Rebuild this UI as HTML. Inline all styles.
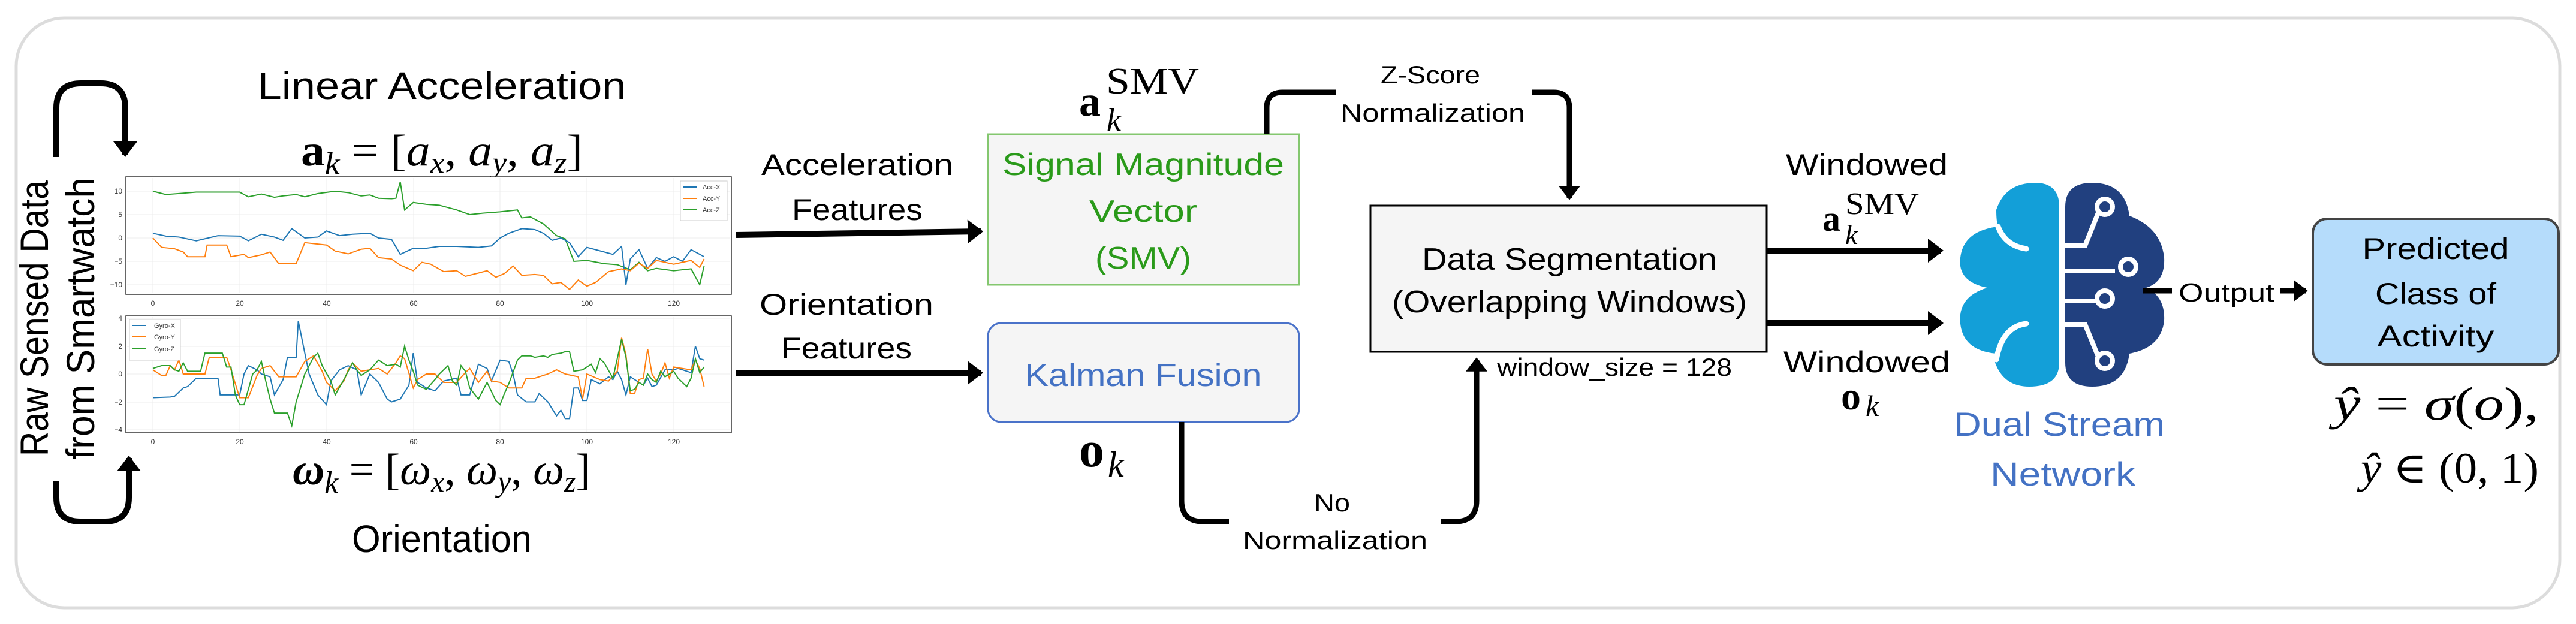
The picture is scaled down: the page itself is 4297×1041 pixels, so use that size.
<!DOCTYPE html>
<html><head><meta charset="utf-8"><style>
html,body{margin:0;padding:0;background:#fff;}
svg{display:block;}
.c{font-family:"Liberation Sans Narrow","Liberation Sans",sans-serif;}
.m{font-family:"Liberation Serif","DejaVu Serif",serif;}
</style></head><body>
<svg width="4297" height="1041" viewBox="0 0 4297 1041" xmlns="http://www.w3.org/2000/svg">
<defs>
<marker id="ah" markerWidth="4" markerHeight="4" refX="2.2" refY="2" orient="auto" markerUnits="strokeWidth">
<path d="M0,0 L2.6,2 L0,4 Z" fill="#000"/></marker>
</defs>
<rect x="27" y="30" width="4243" height="984" rx="80" fill="#fff" stroke="#dcdcdc" stroke-width="5"/>

<!-- left rotated text -->
<text class="c" transform="translate(80,531) rotate(-90)" font-size="66" text-anchor="middle" textLength="460" lengthAdjust="spacingAndGlyphs" fill="#000">Raw Sensed Data</text>
<text class="c" transform="translate(157,531) rotate(-90)" font-size="66" text-anchor="middle" textLength="470" lengthAdjust="spacingAndGlyphs" fill="#000">from Smartwatch</text>
<!-- curved arrows -->
<path d="M94,262 V180 Q94,139 135,139 H168 Q209,139 209,180 V258" fill="none" stroke="#000" stroke-width="10" marker-end="url(#ah)"/>
<path d="M94,803 V830 Q94,870 134,870 H175 Q215,870 215,830 V764" fill="none" stroke="#000" stroke-width="10" marker-end="url(#ah)"/>

<text class="c" x="737" y="165" font-size="64" text-anchor="middle" textLength="615" lengthAdjust="spacingAndGlyphs">Linear Acceleration</text>
<text class="m" x="502" y="276" font-size="74" textLength="470" lengthAdjust="spacingAndGlyphs"><tspan font-weight="bold">a</tspan><tspan font-style="italic" font-size="52" dy="14">k</tspan><tspan dy="-14"> = [</tspan><tspan font-style="italic">a</tspan><tspan font-style="italic" font-size="50" dy="12">x</tspan><tspan dy="-12">, </tspan><tspan font-style="italic">a</tspan><tspan font-style="italic" font-size="50" dy="12">y</tspan><tspan dy="-12">, </tspan><tspan font-style="italic">a</tspan><tspan font-style="italic" font-size="50" dy="12">z</tspan><tspan dy="-12">]</tspan></text>

<!-- plot 1 -->
<rect x="210" y="295" width="1010" height="196" fill="#fff" stroke="#333" stroke-width="1.5"/>
<g stroke="#ececec" stroke-width="1">
<line x1="255" y1="297" x2="255" y2="489"/><line x1="400" y1="297" x2="400" y2="489"/><line x1="545" y1="297" x2="545" y2="489"/><line x1="690" y1="297" x2="690" y2="489"/><line x1="834" y1="297" x2="834" y2="489"/><line x1="979" y1="297" x2="979" y2="489"/><line x1="1124" y1="297" x2="1124" y2="489"/>
<line x1="212" y1="319" x2="1218" y2="319"/><line x1="212" y1="358" x2="1218" y2="358"/><line x1="212" y1="397" x2="1218" y2="397"/><line x1="212" y1="436" x2="1218" y2="436"/><line x1="212" y1="475" x2="1218" y2="475"/>
</g>
<g font-family="Liberation Sans,sans-serif" font-size="12" fill="#333" text-anchor="end">
<text x="204" y="323">10</text><text x="204" y="362">5</text><text x="204" y="401">0</text><text x="204" y="440">−5</text><text x="204" y="479">−10</text></g>
<g font-family="Liberation Sans,sans-serif" font-size="12" fill="#333" text-anchor="middle">
<text x="255" y="510">0</text><text x="400" y="510">20</text><text x="545" y="510">40</text><text x="690" y="510">60</text><text x="834" y="510">80</text><text x="979" y="510">100</text><text x="1124" y="510">120</text></g>
<g transform="translate(255,397) scale(7.24,-7.8)" fill="none">
<polyline vector-effect="non-scaling-stroke" stroke-width="2" stroke="#2ca02c" points="0,10 3,9.3 6,9.5 10,9.8 20,9.8 22,8.8 25,9.4 28,8.7 30,9 33,9.3 35,8.8 38,9.5 42,10 45,9.7 48,9 50,9.2 52,8.5 55,8.4 56,8.5 57,12 58,6 60,7.6 63,7.2 66,7 70,6 73,5 76,5.3 80,5.6 84,6 85,4.3 87,4.5 90,3 93,0.5 95,-0.2 97,-5 100,-4.8 104,-5.5 107,-5.7 110,-6.8 112,-5.2 114,-7 116,-6.5 120,-7 124,-6.6 126,-10 127,-6"/>
<polyline vector-effect="non-scaling-stroke" stroke-width="2" stroke="#1f77b4" points="0,1 3,0.4 6,0.2 10,-0.6 15,0.5 20,0.4 22,-0.6 25,0.8 28,0.2 30,-0.5 32,2 35,0 38,0.2 40,1.5 43,0.5 46,0.8 50,1 52,0 55,-0.3 57,-3.5 60,-2.2 63,-2.2 66,-1.8 70,-1.8 75,-2 78,-1.7 80,0 82,1 85,2 88,1.8 90,1 92,-0.5 94,0 96,-1 98,-4 100,-2 104,-3 106,-3.5 108,-1.8 109,-10 110,-4.5 112,-2.5 114,-6.5 116,-4.2 118,-5 120,-4 122,-5 124,-2.5 126,-3.5 127,-4"/>
<polyline vector-effect="non-scaling-stroke" stroke-width="2" stroke="#ff7f0e" points="0,0 2,-2 5,-2.3 7,-3 8,-4 12,-4 12.5,-1.5 17,-1.5 18,-4 21,-3.5 22,-4.2 25,-3.6 27,-3 29,-5.5 33,-5.5 35,-1 40,-1.5 42,-2.8 45,-3.4 48,-2.4 50,-2.2 52,-4.2 55,-4.5 57,-5.8 60,-7 62,-5.2 64,-5.6 67,-7.2 70,-7 72,-8.2 75,-7.5 77,-7 79,-8.4 81,-7.6 83,-6 85,-8 88,-7.8 90,-8 92,-9.8 94,-9.5 96,-11 98,-9 100,-10.3 102,-9.5 105,-7.2 108,-6.6 110,-7 112,-5.4 114,-6.5 116,-4.8 120,-5.6 124,-4.8 126,-6.3 127,-4.5"/>
</g>
<rect x="1135" y="302" width="78" height="66" fill="#fff" stroke="#ccc" stroke-width="1"/>
<g font-family="Liberation Sans,sans-serif" font-size="11" fill="#333">
<line x1="1140" y1="312" x2="1162" y2="312" stroke="#1f77b4" stroke-width="2"/><text x="1172" y="316">Acc-X</text>
<line x1="1140" y1="331" x2="1162" y2="331" stroke="#ff7f0e" stroke-width="2"/><text x="1172" y="335">Acc-Y</text>
<line x1="1140" y1="350" x2="1162" y2="350" stroke="#2ca02c" stroke-width="2"/><text x="1172" y="354">Acc-Z</text>
</g>

<!-- plot 2 -->
<rect x="210" y="527" width="1010" height="195" fill="#fff" stroke="#333" stroke-width="1.5"/>
<g stroke="#ececec" stroke-width="1">
<line x1="255" y1="529" x2="255" y2="720"/><line x1="400" y1="529" x2="400" y2="720"/><line x1="545" y1="529" x2="545" y2="720"/><line x1="690" y1="529" x2="690" y2="720"/><line x1="834" y1="529" x2="834" y2="720"/><line x1="979" y1="529" x2="979" y2="720"/><line x1="1124" y1="529" x2="1124" y2="720"/>
<line x1="212" y1="531" x2="1218" y2="531"/><line x1="212" y1="578" x2="1218" y2="578"/><line x1="212" y1="624" x2="1218" y2="624"/><line x1="212" y1="671" x2="1218" y2="671"/><line x1="212" y1="717" x2="1218" y2="717"/>
</g>
<g font-family="Liberation Sans,sans-serif" font-size="12" fill="#333" text-anchor="end">
<text x="204" y="535">4</text><text x="204" y="582">2</text><text x="204" y="628">0</text><text x="204" y="675">−2</text><text x="204" y="721">−4</text></g>
<g font-family="Liberation Sans,sans-serif" font-size="12" fill="#333" text-anchor="middle">
<text x="255" y="741">0</text><text x="400" y="741">20</text><text x="545" y="741">40</text><text x="690" y="741">60</text><text x="834" y="741">80</text><text x="979" y="741">100</text><text x="1124" y="741">120</text></g>
<g transform="translate(255,624) scale(7.24,-23.25)" fill="none">
<polyline vector-effect="non-scaling-stroke" stroke-width="2" stroke="#1f77b4" points="0,-1.7 4,-1.65 5,-1.6 7,-1 8,-0.9 10,-0.3 15,-0.3 15.5,-1.5 20,-1.5 21,0 22,0.6 24,0.3 25,0 27,-0.2 28,-1.5 30,-0.4 31,1.2 33,1.2 33.5,3.8 35,1.5 36,0 38,-1.5 40,-2.2 41,-0.5 43,0.3 45,0.6 47,0.3 48,-1.5 50,0 52,-0.6 54,-1.8 55,-2 57,-1.8 59,-0.8 60,1.5 61,-0.6 63,-1 65,-1.2 67,-0.5 70,-0.3 71,-1.5 73,-1.5 75,0.7 77,0.4 78,-0.5 80,1 82,0.9 83,0 84,-1.5 86,-2 88,-2 89,-1.4 91,-2 93,-3 94,-2.6 95,-3.2 96,-3.2 97,-1 98,-1 99,-1.9 100,-1.9 101,-0.4 103,-0.7 105,-0.2 106,-0.4 107,0.2 108,-0.4 109,-1.5 110,-0.2 112,-0.6 113,-0.8 114,-0.3 115,-0.9 116,-0.8 118,0.3 120,0.3 121,0.4 123,0.2 124,0.1 125,2 126,1.1 127,1"/>
<polyline vector-effect="non-scaling-stroke" stroke-width="2" stroke="#ff7f0e" points="0,0.3 2,-0.1 3,-0.1 4,0.6 5,0.3 6,1 7,0 12,0 13,1.2 17,1.2 18,0.3 20,-1.7 22,-1.7 24,-0.1 25,0.4 27,0.6 29,-0.2 33,-0.2 35,0.9 37,1.3 39,0.2 40,-0.6 42,-1.2 44,-0.5 45,0.3 46,0.8 48,0.2 50,0.3 52,0.4 54,0 56,0.8 57,1.3 58,1.1 60,-1 61,-0.4 63,0 65,0 67,-0.6 70,-0.6 72,0.1 73,0.4 75,-0.6 77,0.2 78,-0.5 80,-0.6 82,-1 85,-1 86,-0.3 88,-0.3 91,0 93,0.3 95,0 98,-0.2 99,-1.8 100,0 103,-0.4 105,-0.5 107,0.2 108,2.6 109,1.4 110,-1.4 111,-1.4 112,-0.4 113,-0.3 114,1.8 115,0 116,-0.5 117,0 118,0.8 119,-0.3 120,0.5 124,0.3 125,1 126,0.4 127,-0.9"/>
<polyline vector-effect="non-scaling-stroke" stroke-width="2" stroke="#2ca02c" points="0,0.4 2,0.6 4,0.6 5,0.3 6,0.2 7,0.8 8,0.2 11,0.2 12,1.5 16,1.5 17,0.5 18,0.5 19,-1.5 20,-2.2 21,-2.2 23,0 24,0.3 25,0.9 26,-0.5 27,-1.8 28,-2.8 31,-2.8 32,-3.7 33,-2 35,0 37,1.2 38,1.5 39,0.6 41,-0.5 42,-1.5 44,-0.4 45,0.2 46,0.8 47,0.3 48,-0.1 50,0.3 52,1 54,0.6 56,0.7 57,0.5 58,2 59,1 60,0.2 61,-0.8 63,-1.1 65,-0.4 66,0 68,0.6 69,-0.5 70,-0.8 71,0.6 72,0.2 73,-1 75,-1.8 76,-1.2 77,-0.6 79,-1.9 80,-2.2 81,-1.4 82,-0.7 84,1 85,1.3 87,1.3 88,1.2 90,1.3 91,1.2 92,1.4 94,1.5 95,1.6 96,1.6 97,0.2 99,0.3 100,0.5 101,0.7 102,0.1 103,1.1 104,0.8 106,-0.3 108,2.5 109,1.2 110,-1.2 111,-1.1 112,-0.6 113,-0.8 114,0 115,-0.4 116,-0.6 117,0.2 118,-0.2 120,0.2 121,-0.3 123,-0.9 124,-0.3 125,1.1 126,0.1 127,0.5"/>
</g>
<rect x="216" y="533" width="85" height="68" fill="#fff" stroke="#ccc" stroke-width="1"/>
<g font-family="Liberation Sans,sans-serif" font-size="11" fill="#333">
<line x1="221" y1="543" x2="243" y2="543" stroke="#1f77b4" stroke-width="2"/><text x="257" y="547">Gyro-X</text>
<line x1="221" y1="562" x2="243" y2="562" stroke="#ff7f0e" stroke-width="2"/><text x="257" y="566">Gyro-Y</text>
<line x1="221" y1="582" x2="243" y2="582" stroke="#2ca02c" stroke-width="2"/><text x="257" y="586">Gyro-Z</text>
</g>

<text class="m" x="488" y="808" font-size="74" textLength="497" lengthAdjust="spacingAndGlyphs"><tspan font-weight="bold" font-style="italic">ω</tspan><tspan font-style="italic" font-size="52" dy="14">k</tspan><tspan dy="-14"> = [</tspan><tspan font-style="italic">ω</tspan><tspan font-style="italic" font-size="50" dy="12">x</tspan><tspan dy="-12">, </tspan><tspan font-style="italic">ω</tspan><tspan font-style="italic" font-size="50" dy="12">y</tspan><tspan dy="-12">, </tspan><tspan font-style="italic">ω</tspan><tspan font-style="italic" font-size="50" dy="12">z</tspan><tspan dy="-12">]</tspan></text>
<text class="c" x="737" y="921" font-size="64" text-anchor="middle" textLength="300" lengthAdjust="spacingAndGlyphs">Orientation</text>

<!-- feature arrows -->
<line x1="1228" y1="392" x2="1636" y2="386" stroke="#000" stroke-width="10" marker-end="url(#ah)"/>
<line x1="1228" y1="622" x2="1636" y2="622" stroke="#000" stroke-width="10" marker-end="url(#ah)"/>
<g class="c" font-size="50" text-anchor="middle">
<text x="1430" y="292" textLength="320" lengthAdjust="spacingAndGlyphs">Acceleration</text>
<text x="1430" y="367" textLength="218" lengthAdjust="spacingAndGlyphs">Features</text>
<text x="1412" y="525" textLength="290" lengthAdjust="spacingAndGlyphs">Orientation</text>
<text x="1412" y="598" textLength="218" lengthAdjust="spacingAndGlyphs">Features</text>
</g>

<!-- SMV box -->
<rect x="1648" y="224" width="519" height="251" fill="#f5f5f5" stroke="#84c76f" stroke-width="3"/>
<g class="c" font-size="52" fill="#2a9a1a" text-anchor="middle">
<text x="1907" y="292" textLength="470" lengthAdjust="spacingAndGlyphs">Signal Magnitude</text>
<text x="1907" y="370" textLength="180" lengthAdjust="spacingAndGlyphs">Vector</text>
<text x="1907" y="448" textLength="160" lengthAdjust="spacingAndGlyphs">(SMV)</text>
</g>
<text class="m" x="1800" y="193" font-size="72"><tspan font-weight="bold">a</tspan></text>
<text class="m" x="1845" y="156" font-size="62" textLength="155" lengthAdjust="spacingAndGlyphs">SMV</text>
<text class="m" x="1846" y="218" font-size="54" font-style="italic">k</text>

<!-- Kalman -->
<rect x="1648" y="539" width="519" height="165" rx="22" fill="#f5f5f5" stroke="#4a72c9" stroke-width="3"/>
<text class="c" x="1907" y="644" font-size="54" fill="#4472c4" text-anchor="middle" textLength="395" lengthAdjust="spacingAndGlyphs">Kalman Fusion</text>
<text class="m" x="1800" y="778" font-size="84" font-weight="bold">o</text>
<text class="m" x="1848" y="795" font-size="60" font-style="italic">k</text>

<!-- Z-score connector -->
<path d="M2113,224 V180 Q2113,154 2139,154 H2228" fill="none" stroke="#000" stroke-width="9"/>
<path d="M2555,154 H2592 Q2618,154 2618,180 V330" fill="none" stroke="#000" stroke-width="9" marker-end="url(#ah)"/>
<g class="c" font-size="42" text-anchor="middle">
<text x="2386" y="139" textLength="166" lengthAdjust="spacingAndGlyphs">Z-Score</text>
<text x="2390" y="203" textLength="308" lengthAdjust="spacingAndGlyphs">Normalization</text>
</g>

<!-- Data segmentation -->
<rect x="2286" y="343" width="661" height="244" fill="#f5f5f5" stroke="#000" stroke-width="3"/>
<g class="c" font-size="52" text-anchor="middle">
<text x="2618" y="450" textLength="492" lengthAdjust="spacingAndGlyphs">Data Segmentation</text>
<text x="2618" y="521" textLength="592" lengthAdjust="spacingAndGlyphs">(Overlapping Windows)</text>
</g>
<text class="c" x="2497" y="627" font-size="42" textLength="392" lengthAdjust="spacingAndGlyphs">window_size = 128</text>

<!-- No normalization connector -->
<path d="M1971,704 V835 Q1971,870 2006,870 H2050" fill="none" stroke="#000" stroke-width="9"/>
<path d="M2403,870 H2428 Q2463,870 2463,835 V600" fill="none" stroke="#000" stroke-width="9" marker-end="url(#ah)"/>
<g class="c" font-size="42" text-anchor="middle">
<text x="2222" y="853" textLength="60" lengthAdjust="spacingAndGlyphs">No</text>
<text x="2227" y="916" textLength="308" lengthAdjust="spacingAndGlyphs">Normalization</text>
</g>

<!-- windowed arrows -->
<line x1="2947" y1="418" x2="3238" y2="418" stroke="#000" stroke-width="10" marker-end="url(#ah)"/>
<line x1="2947" y1="539" x2="3238" y2="539" stroke="#000" stroke-width="10" marker-end="url(#ah)"/>
<g class="c" font-size="50" text-anchor="middle">
<text x="3114" y="292" textLength="270" lengthAdjust="spacingAndGlyphs">Windowed</text>
<text x="3114" y="621" textLength="278" lengthAdjust="spacingAndGlyphs">Windowed</text>
</g>
<text class="m" x="3040" y="385" font-size="60" font-weight="bold">a</text>
<text class="m" x="3078" y="357" font-size="52" textLength="123" lengthAdjust="spacingAndGlyphs">SMV</text>
<text class="m" x="3078" y="407" font-size="46" font-style="italic">k</text>
<text class="m" x="3071" y="683" font-size="66" font-weight="bold">o</text>
<text class="m" x="3112" y="694" font-size="50" font-style="italic">k</text>

<!-- brain -->
<g fill="#139fd8">
<path d="M3435,345 Q3435,305 3395,305 Q3345,305 3330,350 Q3330,370 3333,378 Q3275,385 3270,430 Q3265,470 3315,480 Q3265,495 3270,540 Q3275,585 3330,590 Q3325,600 3330,610 Q3345,645 3385,645 Q3435,645 3435,605 Z"/>
</g>
<g fill="none" stroke="#fff" stroke-width="9" stroke-linecap="round">
<path d="M3333,378 Q3345,410 3380,415"/>
<path d="M3330,600 Q3340,545 3380,540"/>
</g>
<g fill="#21407f">
<path d="M3445,345 Q3445,305 3490,305 Q3545,305 3552,360 Q3605,380 3610,430 Q3612,470 3580,480 Q3612,495 3610,535 Q3605,580 3552,590 Q3545,645 3490,645 Q3445,645 3445,605 Z"/>
</g>
<g fill="none" stroke="#fff" stroke-width="8">
<polyline points="3445,410 3478,410 3500,355"/>
<circle cx="3511" cy="345" r="13"/>
<polyline points="3445,452 3528,452"/>
<circle cx="3550" cy="445" r="13"/>
<polyline points="3445,502 3500,502"/>
<circle cx="3511" cy="498" r="13"/>
<polyline points="3445,541 3478,541 3500,595"/>
<circle cx="3511" cy="602" r="13"/>
</g>
<g class="c" font-size="56" fill="#4472c4" text-anchor="middle">
<text x="3435" y="727" textLength="352" lengthAdjust="spacingAndGlyphs">Dual Stream</text>
<text x="3441" y="810" textLength="242" lengthAdjust="spacingAndGlyphs">Network</text>
</g>

<!-- output -->
<line x1="3574" y1="485" x2="3623" y2="485" stroke="#000" stroke-width="9"/>
<text class="c" x="3634" y="503" font-size="44" textLength="160" lengthAdjust="spacingAndGlyphs">Output</text>
<line x1="3804" y1="485" x2="3846" y2="485" stroke="#000" stroke-width="9" marker-end="url(#ah)"/>
<rect x="3858" y="365" width="410" height="243" rx="24" fill="#b5dcfb" stroke="#444" stroke-width="4"/>
<g class="c" font-size="50" text-anchor="middle">
<text x="4063" y="432" textLength="245" lengthAdjust="spacingAndGlyphs">Predicted</text>
<text x="4063" y="507" textLength="202" lengthAdjust="spacingAndGlyphs">Class of</text>
<text x="4063" y="578" textLength="195" lengthAdjust="spacingAndGlyphs">Activity</text>
</g>
<text class="m" x="3893" y="700" font-size="78" textLength="342" lengthAdjust="spacingAndGlyphs"><tspan font-style="italic">ŷ</tspan> = <tspan font-style="italic">σ</tspan>(<tspan font-style="italic">o</tspan>),</text>
<text class="m" x="3938" y="805" font-size="72" textLength="297" lengthAdjust="spacingAndGlyphs"><tspan font-style="italic">ŷ</tspan> ∈ (0, 1)</text>
</svg>
</body></html>
